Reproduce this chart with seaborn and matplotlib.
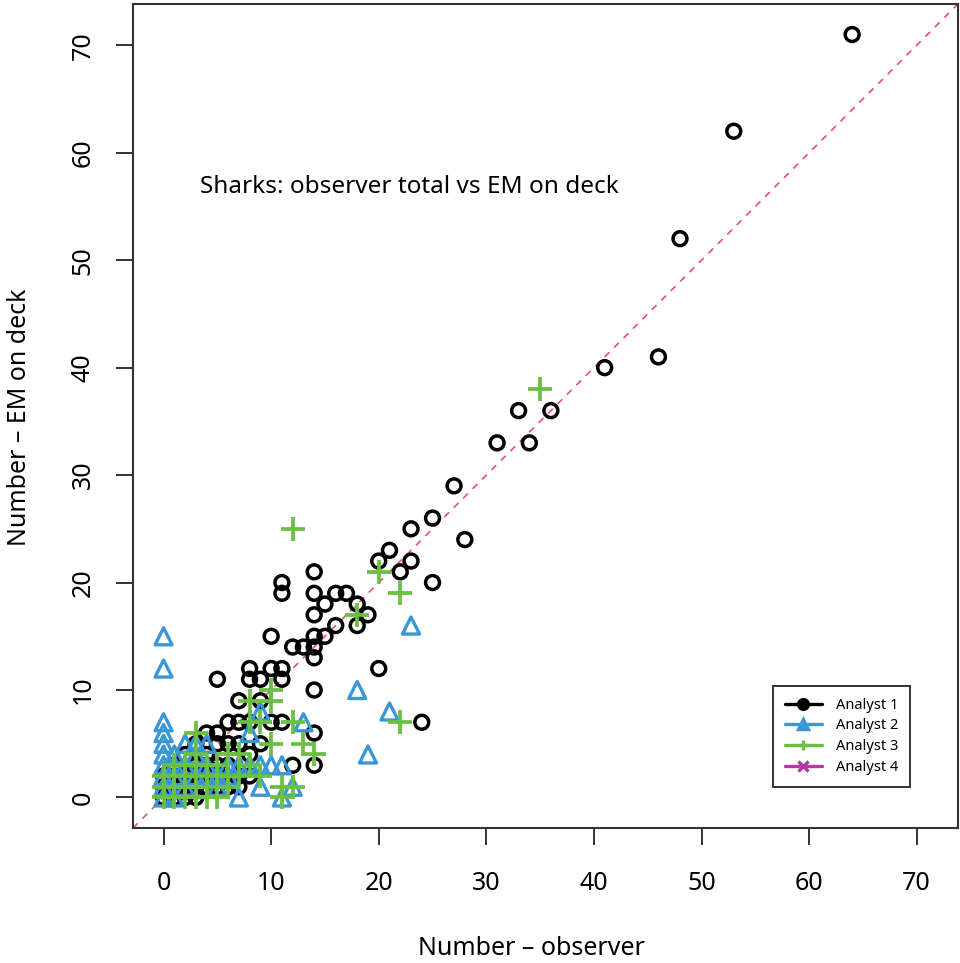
import matplotlib
matplotlib.use("Agg")
import matplotlib.pyplot as plt
from matplotlib.lines import Line2D
import seaborn as sns

# Analyst 1 (open circles)
a1_x = [64, 53, 48, 46, 41, 33, 36, 31, 34, 27, 25, 23, 28, 21, 20, 23, 22, 25, 20, 24,
        11, 11, 14, 14, 15, 16, 17, 18, 19, 18, 14, 16, 10, 14, 15, 12, 13, 14, 14, 14,
        14, 14, 5, 8, 8, 9, 10, 11, 11, 7, 9, 6, 7, 8, 10, 11, 12, 9, 4, 5,
        0, 0, 0, 1, 1, 1, 1, 2, 2, 2, 2, 3, 3, 3, 3, 3, 4, 4, 4, 4,
        5, 5, 5, 6, 6, 7, 7, 8, 8, 5, 6, 7]
a1_y = [71, 62, 52, 41, 40, 36, 36, 33, 33, 29, 26, 25, 24, 23, 22, 22, 21, 20, 12, 7,
        20, 19, 21, 19, 18, 19, 19, 18, 17, 16, 17, 16, 15, 15, 15, 14, 14, 14, 13, 10,
        6, 3, 11, 12, 11, 11, 12, 12, 11, 9, 9, 7, 7, 7, 7, 7, 3, 5, 6, 6,
        0, 1, 2, 0, 1, 2, 3, 0, 1, 2, 4, 0, 1, 2, 3, 5, 1, 2, 3, 4,
        2, 3, 5, 3, 5, 2, 5, 2, 4, 1, 1, 1]

# Analyst 2 (open triangles)
a2_x = [0, 0, 0, 0, 0, 0, 0, 0, 0, 0, 1, 1, 1, 1, 2, 2, 2, 3, 3, 3,
        4, 4, 4, 5, 5, 6, 6, 7, 7, 8, 8, 9, 9, 9, 10, 11, 11, 12, 13, 18,
        19, 21, 23]
a2_y = [15, 12, 7, 6, 5, 4, 3, 2, 1, 0, 0, 2, 3, 4, 1, 3, 5, 2, 4, 5,
        2, 3, 5, 2, 1, 3, 2, 0, 3, 3, 6, 1, 3, 8, 3, 0, 3, 1, 7, 10,
        4, 8, 16]

# Analyst 3 (plus signs)
a3_x = [35, 12, 20, 22, 18, 22, 10, 8, 10, 8, 9, 12, 10, 13, 14, 7, 9, 11, 11, 12,
        0, 0, 0, 1, 1, 1, 1, 2, 2, 2, 2, 3, 3, 3, 3, 3, 3, 4, 4, 4,
        4, 5, 5, 5, 6, 6, 6, 7, 8]
a3_y = [38, 25, 21, 19, 17, 7, 10, 9, 9, 7, 7, 7, 5, 5, 4, 4, 2, 0, 1, 1,
        0, 1, 2, 0, 1, 2, 3, 0, 1, 2, 3, 0, 1, 2, 3, 4, 6, 0, 1, 2,
        3, 0, 2, 3, 1, 2, 4, 2, 3]

# Analyst 4 (crosses) - no points visible
a4_x = []
a4_y = []

analysts = ["Analyst 1", "Analyst 2", "Analyst 3", "Analyst 4"]
colors = ["black", "#3a97d5", "#6abf45", "#b03a9e"]

sns.set_style("ticks")
plt.rcParams["font.family"] = ["Noto Sans", "DejaVu Sans"]
plt.rcParams["text.color"] = "black"
plt.rcParams["xtick.color"] = "black"
plt.rcParams["ytick.color"] = "black"

fig = plt.figure(figsize=(9.6, 9.63), dpi=100)
ax = fig.add_axes([133 / 960, 1 - 828 / 963, 825 / 960, 824 / 963])

lims = (-2.84, 73.84)
ax.axline((0, 0), slope=1, color="#e8506a", lw=1.2, dashes=(4, 4), zorder=1)

sns.scatterplot(x=a1_x, y=a1_y, ax=ax, marker="o", s=100, fc="none",
                ec=colors[0], linewidth=2.5, zorder=2)
sns.scatterplot(x=a2_x, y=a2_y, ax=ax, marker="^", s=150, fc="none",
                ec=colors[1], linewidth=2.4, zorder=3)
sns.scatterplot(x=a3_x, y=a3_y, ax=ax, marker="+", s=300, color=colors[2],
                linewidth=2.7, zorder=4)

ax.set_xlim(lims)
ax.set_ylim(lims)
ax.set_xticks(range(0, 71, 10))
ax.set_yticks(range(0, 71, 10))
ax.tick_params(axis="both", length=12, width=1.4, color="#333333",
               labelsize=18, labelcolor="black", direction="out")
ax.tick_params(axis="x", pad=19)
ax.tick_params(axis="y", pad=15)
for lab in ax.get_yticklabels():
    lab.set_rotation(90)
    lab.set_va("center")
for sp in ax.spines.values():
    sp.set_linewidth(1.5)
    sp.set_color("#333333")

ax.text(22.9, 56.8, "Sharks: observer total vs EM on deck", fontsize=17.5,
        ha="center", va="center", color="black")

fig.text(531 / 960, 1 - 948 / 963, "Number \u2013 observer", fontsize=18,
         ha="center", va="center")
fig.text(20 / 960, 1 - 417 / 963, "Number \u2013 EM on deck", fontsize=18,
         ha="center", va="center", rotation=90)

markers = ["o", "^", "+", "x"]
handles = [Line2D([0], [0], color=c, marker=m, lw=2.4, markersize=7,
                  markeredgewidth=2.4, markerfacecolor=c)
           for c, m in zip(colors, markers)]
leg = ax.legend(handles, analysts, loc="lower right",
                bbox_to_anchor=(0.942, 0.05), fontsize=10.5, frameon=True,
                fancybox=False, handlelength=2.5, handletextpad=1.0,
                labelspacing=0.4, borderpad=0.8, borderaxespad=0.0)
leg.get_frame().set_edgecolor("black")
leg.get_frame().set_linewidth(1.4)

fig.savefig("out.png", dpi=100)
